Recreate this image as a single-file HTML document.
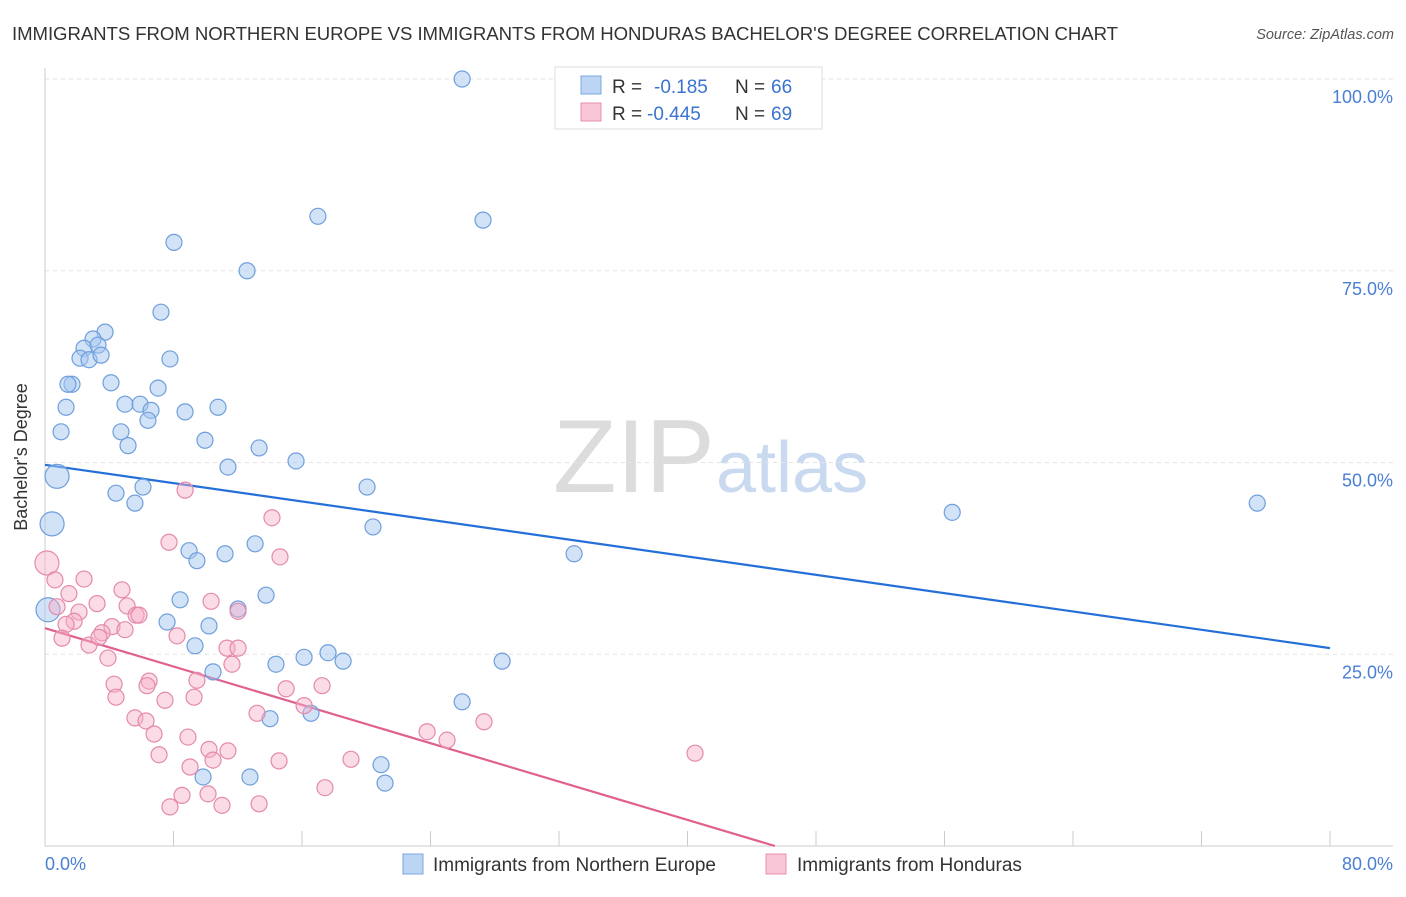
<!DOCTYPE html>
<html><head><meta charset="utf-8">
<style>
body{margin:0;background:#fff;font-family:"Liberation Sans",sans-serif;}
svg text{font-family:"Liberation Sans",sans-serif;}
</style></head>
<body>
<svg id="chart" width="1406" height="892" viewBox="0 0 1406 892" xmlns="http://www.w3.org/2000/svg">
<text x="12" y="40" font-size="18.6" fill="#333" textLength="1106">IMMIGRANTS FROM NORTHERN EUROPE VS IMMIGRANTS FROM HONDURAS BACHELOR'S DEGREE CORRELATION CHART</text>
<text x="1394" y="39" font-size="14.5" fill="#555" font-style="italic" text-anchor="end">Source: ZipAtlas.com</text>
<g>
<text x="553" y="492" font-size="104" fill="#dcdcdc" font-family="Liberation Serif, serif">ZIP</text>
<text x="716" y="492" font-size="72" fill="#c9d9f0">atlas</text>
</g>
<g id="grid"></g>
<g id="axes"></g>
<g id="lines"></g>
<g id="pts"></g>
<text x="27" y="457" font-size="18" fill="#333" text-anchor="middle" transform="rotate(-90 27 457)">Bachelor's Degree</text>
<g>
<rect x="555" y="67" width="267" height="62" fill="#fff" stroke="#ddd"/>
<rect x="581" y="76" width="20" height="18" fill="#bcd5f5" stroke="#7aa8e0"/>
<rect x="581" y="103" width="20" height="18" fill="#f8c6d6" stroke="#e890b0"/>
<text y="93" font-size="19" fill="#333"><tspan x="612">R =</tspan><tspan x="654" fill="#3b74d0">-0.185</tspan><tspan x="735">N =</tspan><tspan x="771" fill="#3b74d0">66</tspan></text>
<text y="120" font-size="19" fill="#333"><tspan x="612">R =</tspan><tspan x="647" fill="#3b74d0">-0.445</tspan><tspan x="735">N =</tspan><tspan x="771" fill="#3b74d0">69</tspan></text>
</g>
<g>
<rect x="403" y="854" width="20" height="20" fill="#bcd5f5" stroke="#7aa8e0"/>
<text x="433" y="871" font-size="19" fill="#333">Immigrants from Northern Europe</text>
<rect x="766" y="854" width="20" height="20" fill="#f8c6d6" stroke="#e890b0"/>
<text x="797" y="871" font-size="19" fill="#333">Immigrants from Honduras</text>
</g>
</svg>
<script>
const blueX=[25.97,16.99,27.27,8.03,12.58,7.22,3.74,2.99,2.43,3.30,2.18,2.74,3.49,7.78,1.68,1.43,4.11,7.04,1.31,4.98,5.92,6.60,8.72,10.77,6.41,1.00,4.73,9.96,5.17,11.39,13.33,15.63,0.75,4.42,6.10,5.60,20.05,56.48,75.47,0.44,20.42,32.94,8.97,9.46,11.21,13.08,8.41,13.76,12.02,7.60,10.21,9.34,14.38,16.13,17.62,18.56,10.46,28.46,25.97,14.01,16.56,9.84,12.76,20.92,21.17,0.19];
const blueY=[100,82.1,81.6,78.7,75.0,69.6,67.0,66.1,64.9,65.3,63.6,63.4,64.0,63.5,60.2,60.2,60.4,59.7,57.2,57.6,57.6,56.8,56.6,57.2,55.5,54.0,54.0,52.9,52.2,49.4,51.9,50.2,48.2,46.0,46.8,44.7,46.8,43.5,44.7,42.0,41.6,38.1,38.5,37.2,38.1,39.4,32.1,32.7,30.9,29.2,28.7,26.1,23.7,24.6,25.2,24.1,22.7,24.1,18.8,16.6,17.3,9.0,9.0,10.6,8.2,30.8];
const pinkX=[0.12,0.62,2.43,4.79,1.49,3.24,0.75,5.11,10.34,12.02,5.67,2.12,1.81,1.31,4.17,3.55,4.98,5.85,8.22,1.06,2.74,11.33,12.02,3.92,11.64,8.72,14.13,14.63,7.72,6.48,4.30,6.35,9.46,15.01,17.25,4.42,7.47,9.28,16.13,13.20,5.60,6.29,23.79,25.03,27.33,6.79,8.90,7.10,10.21,11.39,10.46,14.57,19.05,9.03,40.47,8.53,10.15,17.43,7.78,11.02,13.33,3.36];
const pinkY=[36.9,34.7,34.8,33.4,32.9,31.6,31.2,31.3,31.9,30.6,30.1,30.5,29.3,28.9,28.6,27.8,28.2,30.1,27.4,27.1,26.2,25.8,25.8,24.5,23.7,46.4,42.8,37.7,39.6,21.5,21.1,20.9,21.6,20.5,20.9,19.4,19.0,19.4,18.3,17.3,16.7,16.3,14.9,13.8,16.2,14.6,14.2,11.9,12.6,12.4,11.2,11.1,11.3,10.3,12.1,6.6,6.8,7.6,5.1,5.3,5.5,27.2];
const blueBig=[0.75,0.44,0.19];
const pinkBig=[0.12];
const blueLine=[49.7,25.8];
const pinkLine=[28.4,-0.625];
const yTicks=[100,75,50,25];
const yTickLabels=["100.0%","75.0%","50.0%","25.0%"];
const xTicks=[8,16,24,32,40,48,56,64,72,80];

const NS="http://www.w3.org/2000/svg";
const X=v=>45+v*16.0625, Y=v=>846-v*7.67;
function mk(tag,attrs,parent){const e=document.createElementNS(NS,tag);for(const k in attrs)e.setAttribute(k,attrs[k]);document.getElementById(parent).appendChild(e);return e;}
yTicks.forEach((t,i)=>{
 const g=mk('line',{x1:45,x2:1393,y1:Y(t),y2:Y(t),stroke:'#e3e3e3','stroke-dasharray':'4,4'},'grid');
 
 
 const l=mk('text',{x:1393,y:Y(t)+24,'font-size':18,fill:'#4a7fd4','text-anchor':'end'},'axes');
 l.textContent=yTickLabels[i];
 
 
});
let a=mk('line',{x1:45,x2:45,y1:68,y2:846,stroke:'#ccc'},'axes');


a=mk('line',{x1:45,x2:1393,y1:846,y2:846,stroke:'#ccc'},'axes');


xTicks.forEach(t=>{
 const k=mk('line',{x1:X(t),x2:X(t),y1:831,y2:846,stroke:'#ccc'},'axes');
 
 
});
let xl=mk('text',{x:45,y:870,'font-size':18,fill:'#4a7fd4'},'axes');xl.textContent='0.0%';


xl=mk('text',{x:1393,y:870,'font-size':18,fill:'#4a7fd4','text-anchor':'end'},'axes');xl.textContent='80.0%';



function pts(xs,ys,big,fill,stroke,name){
 xs.forEach((x,i)=>{
  const r=big.includes(x)?12:8;
  const c=mk('circle',{cx:X(x),cy:Y(ys[i]),r:r,fill:fill,stroke:stroke,'stroke-width':1.2},'pts');
  
  
 });
}
pts(blueX,blueY,blueBig,'rgba(165,198,240,0.5)','#6f9fdc','point-northern-europe');
pts(pinkX,pinkY,pinkBig,'rgba(246,176,200,0.45)','#e48aac','point-honduras');

let ln=mk('line',{x1:X(0),y1:Y(blueLine[0]),x2:X(80),y2:Y(blueLine[1]),stroke:'#2470d8','stroke-width':2.2},'lines');


const xEnd=-pinkLine[0]/pinkLine[1];
ln=mk('line',{x1:X(0),y1:Y(pinkLine[0]),x2:X(xEnd),y2:Y(0),stroke:'#e0608f','stroke-width':2.2},'lines');


</script>
</body></html>
